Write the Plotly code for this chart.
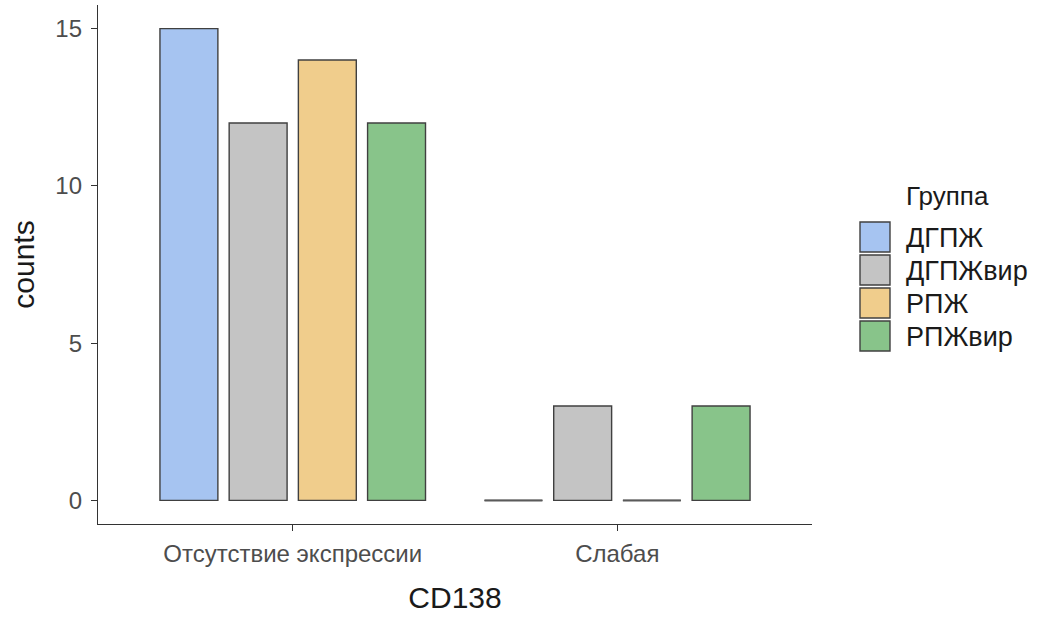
import plotly.graph_objects as go

# Counts of CD138 expression categories by patient group
categories = ["Отсутствие экспрессии", "Слабая"]
groups = ["ДГПЖ", "ДГПЖвир", "РПЖ", "РПЖвир"]
counts = {
    "ДГПЖ": [15, 0],
    "ДГПЖвир": [12, 3],
    "РПЖ": [14, 0],
    "РПЖвир": [12, 3],
}
colors = {
    "ДГПЖ": "#A6C4F1",
    "ДГПЖвир": "#C4C4C4",
    "РПЖ": "#F0CD8C",
    "РПЖвир": "#88C48A",
}

W, H = 1051, 617
L, R, T, B = 98, 239, 5, 93
BARGAP = 0.147
BARGROUPGAP = 0.163
OUTLINE = "#404040"
FONT = "Liberation Sans, Arial, sans-serif"

fig = go.Figure()
for g in groups:
    fig.add_trace(go.Bar(
        x=categories, y=counts[g], name=g,
        marker=dict(color=colors[g], line=dict(color=OUTLINE, width=1.4)),
        showlegend=False,
    ))

# zero-count bars collapse to a flat outline on the baseline
n = len(groups)
slot = (1 - BARGAP) / n
bw = slot * (1 - BARGROUPGAP)
for gi, g in enumerate(groups):
    for ci, v in enumerate(counts[g]):
        if v == 0:
            cx = ci - (1 - BARGAP) / 2 + slot * (gi + 0.5)
            fig.add_shape(type="line", xref="x", yref="y",
                          x0=cx - bw / 2, x1=cx + bw / 2, y0=0, y1=0,
                          line=dict(color="#5a5a5a", width=2))

# legend drawn as square keys with labels
def px_x(p):
    return (p - L) / (W - L - R)

def px_y(p):
    return 1 - (p - T) / (H - T - B)

fig.add_annotation(xref="paper", yref="paper", x=px_x(904), y=px_y(196),
                   text="Группа", showarrow=False, xanchor="left", yanchor="middle",
                   font=dict(family=FONT, size=26, color="#1a1a1a"))
for i, g in enumerate(groups):
    top = 222 + 33 * i
    fig.add_shape(type="rect", xref="paper", yref="paper",
                  x0=px_x(860), x1=px_x(890), y0=px_y(top + 30), y1=px_y(top),
                  fillcolor=colors[g], line=dict(color=OUTLINE, width=1.4))
    fig.add_annotation(xref="paper", yref="paper", x=px_x(904), y=px_y(top + 16),
                       text=g, showarrow=False, xanchor="left", yanchor="middle",
                       font=dict(family=FONT, size=27, color="#1a1a1a"))

fig.update_layout(
    width=W, height=H,
    margin=dict(l=L, r=R, t=T, b=B),
    paper_bgcolor="white", plot_bgcolor="white",
    barmode="group", bargap=BARGAP, bargroupgap=BARGROUPGAP,
    font=dict(family=FONT),
)
fig.update_xaxes(
    range=[-0.6, 1.6], showline=True, linecolor="#333333", linewidth=1.3,
    ticks="outside", ticklen=6, tickcolor="#333333", tickwidth=1.3,
    ticklabelstandoff=2,
    tickfont=dict(family=FONT, size=24, color="#4d4d4d"),
    title=dict(text="CD138", font=dict(family=FONT, size=30, color="#1a1a1a"), standoff=21),
    showgrid=False, zeroline=False,
)
fig.update_yaxes(
    range=[-0.75, 15.75], tickvals=[0, 5, 10, 15],
    showline=True, linecolor="#333333", linewidth=1.3,
    ticks="outside", ticklen=6, tickcolor="#333333", tickwidth=1.3,
    ticklabelstandoff=4,
    tickfont=dict(family=FONT, size=24, color="#4d4d4d"),
    title=dict(text="counts", font=dict(family=FONT, size=30, color="#1a1a1a"), standoff=11),
    showgrid=False, zeroline=False,
)

fig.write_html("out.html")
